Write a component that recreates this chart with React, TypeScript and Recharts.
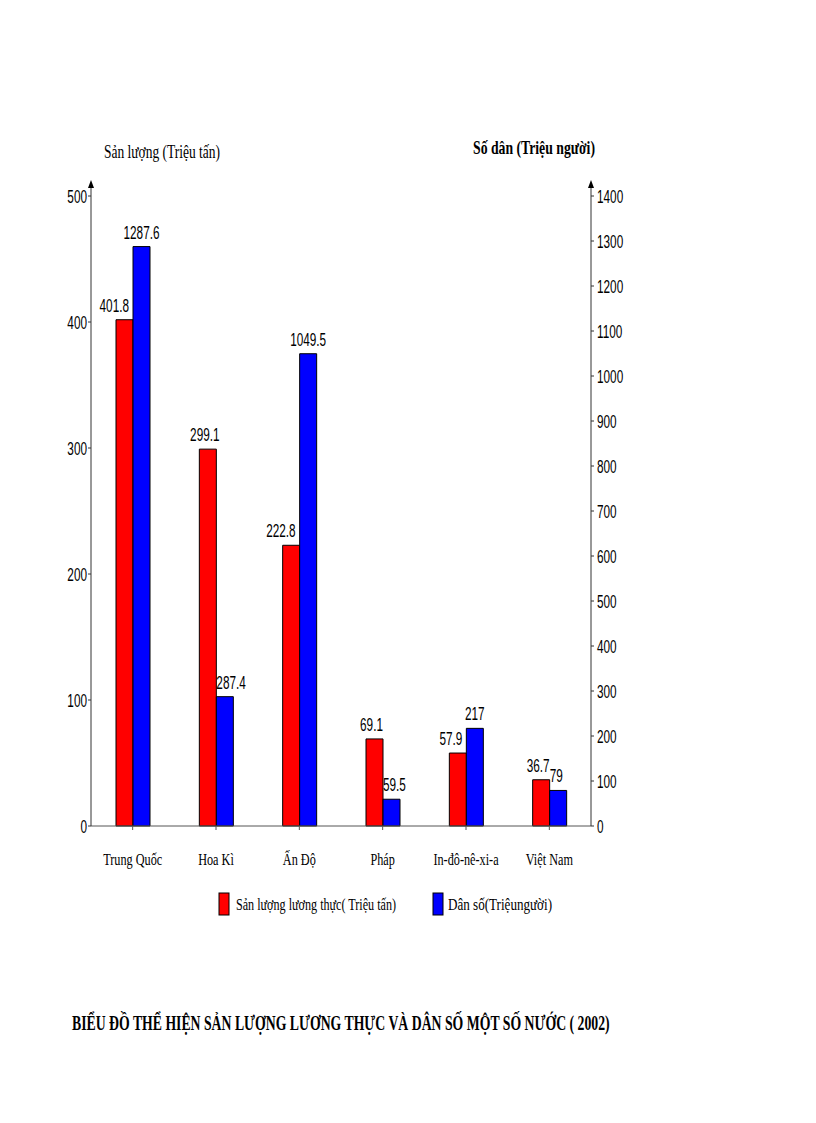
import React from "react";
import { Bar, BarChart, LabelList, XAxis, YAxis } from "recharts";

const countries = ["Trung Quốc", "Hoa Kì", "Ấn Độ", "Pháp", "In-đô-nê-xi-a", "Việt Nam"];
const foodOutput = [401.8, 299.1, 222.8, 69.1, 57.9, 36.7];
const population = [1287.6, 287.4, 1049.5, 59.5, 217, 79];
const leftTicks = [0, 100, 200, 300, 400, 500];
const rightTicks = [0, 100, 200, 300, 400, 500, 600, 700, 800, 900, 1000, 1100, 1200, 1300, 1400];

const foodName = "Sản lượng lương thực( Triệu tấn)";
const popName = "Dân số(Triệungười)";

const FOOD_MAX = 500;
const POP_MAX = 1400;

const data = countries.map((name, i) => ({ name, food: foodOutput[i], pop: population[i] }));

const SANS = "'Liberation Sans', Arial, sans-serif";
const SERIF = "'Liberation Serif', 'Times New Roman', serif";

function NarrowText({ x, y, children, anchor = "middle", sx = 0.62, size = 19, family = SANS, weight = "normal" }: any) {
  return (
    <text
      transform={`translate(${x},${y}) scale(${sx},1)`}
      textAnchor={anchor}
      fontSize={size}
      fontFamily={family}
      fontWeight={weight}
      fill="#000"
    >
      {children}
    </text>
  );
}

const LeftTick = ({ x, y, payload }: any) => (
  <NarrowText x={x} y={y + 7} anchor="end">{payload.value}</NarrowText>
);

const RightTick = ({ x, y, payload }: any) => (
  <NarrowText x={x} y={y + 7} anchor="start">{payload.value}</NarrowText>
);

const CountryTick = ({ x, y, payload }: any) => (
  <NarrowText x={x} y={y + 35} sx={0.72} size={17} family={SERIF}>{payload.value}</NarrowText>
);

// labels move off a taller neighbouring bar, like in the original
const FoodLabel = (props: any) => {
  const { x, y, width, value, index } = props;
  const lower = foodOutput[index] / FOOD_MAX < population[index] / POP_MAX;
  const bx = Number(x);
  const bw = Number(width);
  return lower ? (
    <NarrowText x={bx + bw - 4} y={Number(y) - 8} anchor="end">{value}</NarrowText>
  ) : (
    <NarrowText x={bx + bw / 2 - 3} y={Number(y) - 8}>{value}</NarrowText>
  );
};

const PopLabel = (props: any) => {
  const { x, y, width, value, index } = props;
  const lower = population[index] / POP_MAX < foodOutput[index] / FOOD_MAX;
  const bx = Number(x);
  const bw = Number(width);
  return lower ? (
    <NarrowText x={bx} y={Number(y) - 8} anchor="start">{value}</NarrowText>
  ) : (
    <NarrowText x={bx + bw / 2} y={Number(y) - 8}>{value}</NarrowText>
  );
};

const AxisArrow = ({ viewBox, side }: any) => {
  if (!viewBox) return null;
  const ax = side === "left" ? viewBox.x + viewBox.width : viewBox.x;
  const top = viewBox.y;
  return (
    <g>
      <line x1={ax} y1={top} x2={ax} y2={top - 12} stroke="#333" />
      <polygon points={`${ax - 3},${top - 8} ${ax + 3},${top - 8} ${ax},${top - 16}`} fill="#000" />
    </g>
  );
};

export default function App() {
  return (
    <div style={{ position: "relative", width: 800, height: 1080 }}>
      <BarChart
        width={700}
        height={900}
        data={data}
        margin={{ top: 188, right: 67, left: 33, bottom: 42 }}
        barCategoryGap="30%"
        barGap={0}
      >
        <XAxis
          dataKey="name"
          height={40}
          tick={<CountryTick />}
          tickSize={4}
          tickMargin={0}
          stroke="#555"
          interval={0}
        />
        <YAxis
          yAxisId="left"
          orientation="left"
          width={50}
          domain={[0, FOOD_MAX]}
          ticks={leftTicks}
          tick={<LeftTick />}
          tickSize={3}
          tickMargin={1}
          stroke="#333"
          label={{ content: (p: any) => <AxisArrow {...p} side="left" /> }}
        />
        <YAxis
          yAxisId="right"
          orientation="right"
          width={50}
          domain={[0, POP_MAX]}
          ticks={rightTicks}
          tick={<RightTick />}
          tickSize={3}
          tickMargin={3}
          stroke="#333"
          label={{ content: (p: any) => <AxisArrow {...p} side="right" /> }}
        />
        <Bar yAxisId="left" dataKey="food" name={foodName} fill="#FF0000" stroke="#000" strokeWidth={1} isAnimationActive={false}>
          <LabelList dataKey="food" content={<FoodLabel />} />
        </Bar>
        <Bar yAxisId="right" dataKey="pop" name={popName} fill="#0000FF" stroke="#000" strokeWidth={1} isAnimationActive={false}>
          <LabelList dataKey="pop" content={<PopLabel />} />
        </Bar>
      </BarChart>
      <svg
        width={800}
        height={1080}
        style={{ position: "absolute", left: 0, top: 0, pointerEvents: "none" }}
      >
        <text x={96} y={150} fontFamily={SERIF} fontSize={19} textLength={116} lengthAdjust="spacingAndGlyphs">
          Sản lượng (Triệu tấn)
        </text>
        <text x={465} y={146} fontFamily={SERIF} fontSize={19} fontWeight="bold" textLength={122} lengthAdjust="spacingAndGlyphs">
          Số dân (Triệu người)
        </text>
        <rect x={211} y={885} width={10} height={22} fill="#FF0000" stroke="#000" />
        <text x={228} y={902} fontFamily={SERIF} fontSize={16} textLength={160} lengthAdjust="spacingAndGlyphs">
          {foodName}
        </text>
        <rect x={425} y={885} width={10} height={22} fill="#0000FF" stroke="#000" />
        <text x={440} y={902} fontFamily={SERIF} fontSize={16} textLength={104} lengthAdjust="spacingAndGlyphs">
          {popName}
        </text>
        <g transform="translate(64,1022) scale(0.655,1)">
          <text x={0} y={0} fontFamily={SERIF} fontSize={21} fontWeight="bold">
            BIỂU ĐỒ THỂ HIỆN SẢN LƯỢNG LƯƠNG THỰC VÀ DÂN SỐ MỘT SỐ NƯỚC ( 2002)
          </text>
        </g>
      </svg>
    </div>
  );
}
